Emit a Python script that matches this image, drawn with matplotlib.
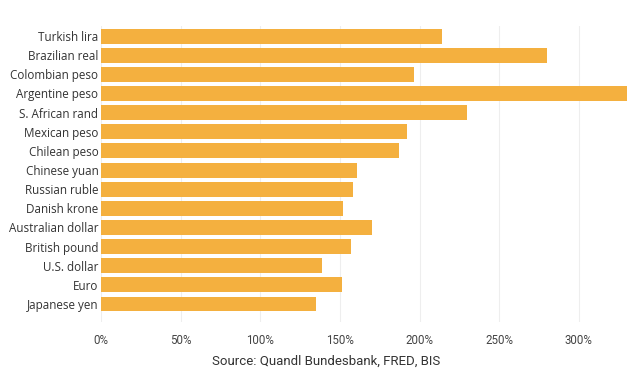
import numpy as np
import matplotlib.pyplot as plt
from matplotlib.ticker import FuncFormatter

currencies = ["Turkish lira", "Brazilian real", "Colombian peso", "Argentine peso",
              "S. African rand", "Mexican peso", "Chilean peso", "Chinese yuan",
              "Russian ruble", "Danish krone", "Australian dollar", "British pound",
              "U.S. dollar", "Euro", "Japanese yen"]
values = [214, 280, 196.5, 330, 229.5, 192, 187, 160.5, 158.5, 152, 170, 157, 139, 151.5, 135]
ticks = [0, 50, 100, 150, 200, 250, 300]

plt.rcParams["font.family"] = ["Open Sans", "DejaVu Sans"]

fig = plt.figure(figsize=(6.4, 3.68), dpi=100)
ax = fig.add_axes([0.158, 0.125, 0.826, 0.804])

y = np.arange(len(currencies))
ax.barh(y, values, height=0.78, color="#F4B03F", zorder=2)

ax.set_yticks(y)
ax.set_yticklabels(currencies, fontsize=8.4, color="#333333")
ax.set_ylim(14.94, -0.52)
ax.set_xlim(0, 332)
ax.set_xticks(ticks)
ax.xaxis.set_major_formatter(FuncFormatter(lambda v, p: f"{v:.0f}%"))
ax.tick_params(axis="x", labelsize=8.3, labelcolor="#444444", length=0, pad=9)
ax.tick_params(axis="y", length=0, pad=2)
for lab in ax.get_xticklabels():
    lab.set_family(["Roboto", "DejaVu Sans"])

ax.grid(axis="x", color="#eeeeee", linewidth=0.8, zorder=0)
for s in ax.spines.values():
    s.set_visible(False)

fig.text(0.51, 0.018, "Source: Quandl Bundesbank, FRED, BIS", ha="center", va="center",
         fontsize=9.5, color="#333333", family=["Roboto", "DejaVu Sans"])

fig.savefig("out.png", dpi=100)
